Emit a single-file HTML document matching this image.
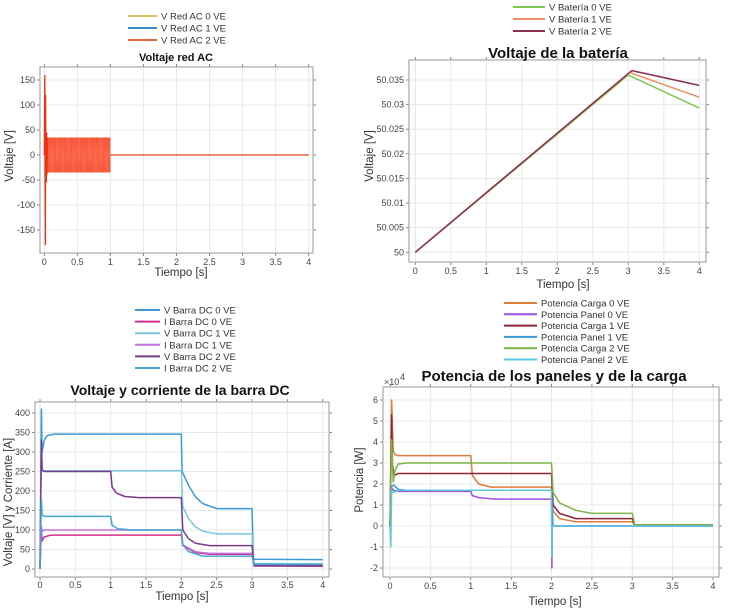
<!DOCTYPE html>
<html><head><meta charset="utf-8"><style>
html,body{margin:0;padding:0;background:#fff;}
svg{display:block;font-family:"Liberation Sans",sans-serif;}
.tick{font-size:9px;fill:#444;}
.lab{font-size:11.5px;fill:#333;}
.leg{font-size:9.5px;fill:#333;}
</style></head><body>
<svg id="s" width="732" height="615" viewBox="0 0 732 615"></svg>
<script>
// ---------- DATA ----------
const xTicks = [0,0.5,1,1.5,2,2.5,3,3.5,4];
const xTickLabels = ["0","0.5","1","1.5","2","2.5","3","3.5","4"];
// AC chart
const acYTicks = [-150,-100,-50,0,50,100,150];
const acSpikeT = [0,0.008,0.012,0.016,0.02,0.024,0.03,0.035,0.04,0.05];
const acSpikeV = [0,160,-40,-180,120,-20,-55,45,-40,35];
const acEnvT = [0.05,1.0];
const acEnvUpper = [35,35];
const acEnvLower = [-35,-35];
const acTailT = [1.0,4.0];
const acTailV = [0,0];
// Battery
const batYTicks = [50,50.005,50.01,50.015,50.02,50.025,50.03,50.035];
const bat0T = [0,3.0,4.0]; const bat0V = [50,50.0360,50.0293];
const bat1T = [0,3.02,4.0]; const bat1V = [50,50.0365,50.0315];
const bat2T = [0,3.05,4.0]; const bat2V = [50,50.0369,50.0339];
// DC bus
const dcYTicks = [0,50,100,150,200,250,300,350,400];
const vdc0T = [0,0.02,0.03,0.06,0.1,0.2,2.0,2.01,2.1,2.2,2.3,2.5,3.0,3.02,4.0];
const vdc0V = [0,410,300,330,342,346,346,250,215,185,168,155,155,25,24];
const idc0T = [0,0.02,0.03,0.06,0.15,2.0,2.02,2.2,2.4,3.0,3.03,4.0];
const idc0V = [0,100,72,82,87,87,60,42,38,38,8,7];
const vdc1T = [0,0.02,0.03,0.05,2.0,2.02,2.1,2.2,2.3,2.5,3.0,3.02,4.0];
const vdc1V = [0,330,250,252,252,160,130,108,97,90,90,14,13];
const idc1T = [0,0.02,0.03,0.06,2.0,2.02,2.2,2.4,3.0,3.03,4.0];
const idc1V = [0,110,95,100,100,62,44,40,40,10,10];
const vdc2T = [0,0.02,0.03,0.06,1.0,1.02,1.08,1.2,1.4,2.0,2.02,2.1,2.2,2.4,3.0,3.03,4.0];
const vdc2V = [0,330,255,250,250,210,195,186,183,183,100,78,66,60,60,8,8];
const idc2T = [0,0.02,0.03,0.06,1.0,1.02,1.1,1.3,2.0,2.02,2.1,2.3,3.0,3.03,4.0];
const idc2V = [0,180,140,135,135,112,103,100,100,62,45,33,33,12,12];
// Power (x1e4)
const pYTicks = [-2,-1,0,1,2,3,4,5,6];
const pc0T = [0,0.02,0.04,0.06,0.1,1.0,1.02,1.1,1.25,1.5,2.0,2.02,2.1,2.3,3.0,3.03,4.0];
const pc0V = [0,6.0,3.6,3.4,3.35,3.35,2.4,2.0,1.85,1.85,1.85,0.7,0.35,0.2,0.2,0.05,0.05];
const pp0T = [0,0.02,0.05,0.1,1.0,1.02,1.1,1.3,2.0,2.005,2.01,2.02,4.0];
const pp0V = [0,1.8,1.7,1.65,1.65,1.45,1.35,1.28,1.28,-2.0,0,0,0];
const pc1T = [0,0.02,0.03,0.05,0.1,2.0,2.02,2.1,2.3,3.0,3.03,4.0];
const pc1V = [0,5.3,3.0,2.4,2.5,2.5,1.0,0.6,0.35,0.35,0.05,0.05];
const pp1T = [0,0.02,0.05,0.1,0.2,2.0,2.02,4.0];
const pp1V = [0,1.9,1.95,1.75,1.7,1.7,0,0];
const pc2T = [0,0.02,0.04,0.06,0.1,0.2,2.0,2.02,2.1,2.3,2.5,3.0,3.03,4.0];
const pc2V = [0,4.1,2.1,2.6,2.95,3.0,3.0,1.6,1.1,0.75,0.6,0.6,0.05,0.05];
const pp2T = [0,0.01,0.02,0.05,0.1,2.0,2.005,2.01,4.0];
const pp2V = [0,-1.0,1.7,1.6,1.7,1.7,-1.5,0,0];

// ---------- DRAW ----------
const NS="http://www.w3.org/2000/svg";
const svg=document.getElementById('s');
function el(tag,attrs,parent,txt){const e=document.createElementNS(NS,tag);for(const k in attrs)e.setAttribute(k,attrs[k]);if(txt!==undefined)e.textContent=txt;(parent||svg).appendChild(e);return e;}

function chart(cfg){
  const g=el('g',{});
  
  
  const b=cfg.box;
  const sx=v=>cfg.x0px+(v-0)*(cfg.x4px-cfg.x0px)/4;
  const sy=v=>cfg.yApx+(v-cfg.yA)*(cfg.yBpx-cfg.yApx)/(cfg.yB-cfg.yA);
  const frame=el('rect',{x:b.l,y:b.t,width:b.r-b.l,height:b.b-b.t,fill:'#fff',stroke:'#a8a8a8','stroke-width':1.2},g);
  
  
  const grid=el('g',{},g);
  
  
  xTicks.forEach((t,i)=>{const x=sx(t);
    el('line',{x1:x,x2:x,y1:b.t,y2:b.b,stroke:'#e8e8e8'},grid);
    el('line',{x1:x,x2:x,y1:b.b,y2:b.b+3,stroke:'#888'},grid);
    el('line',{x1:x,x2:x,y1:b.t,y2:b.t-3,stroke:'#888'},grid);
    const tl=el('text',{x:x,y:b.b+cfg.tickOff,'text-anchor':'middle',class:'tick'},g,xTickLabels[i]);
    
    
  });
  cfg.yTicks.forEach(v=>{const y=sy(v);
    el('line',{x1:b.l,x2:b.r,y1:y,y2:y,stroke:'#e8e8e8'},grid);
    el('line',{x1:b.l-3,x2:b.l,y1:y,y2:y,stroke:'#888'},grid);
    el('line',{x1:b.r,x2:b.r+3,y1:y,y2:y,stroke:'#888'},grid);
    const tl=el('text',{x:b.l-5,y:y+3,'text-anchor':'end',class:'tick'},g,cfg.yFmt?cfg.yFmt(v):String(v));
    
    
  });
  const t=el('text',{x:cfg.title.x,y:cfg.title.y,'text-anchor':'middle','font-weight':'bold','font-size':cfg.title.size,fill:'#111'},g,cfg.title.text);
  
  
  const xl=el('text',{x:cfg.xl.x,y:cfg.xl.y,'text-anchor':'middle',class:'lab'},g,'Tiempo [s]');
  
  
  const yl=el('text',{x:cfg.yl.x,y:cfg.yl.y,'text-anchor':'middle',class:'lab',transform:`rotate(-90 ${cfg.yl.x} ${cfg.yl.y})`},g,cfg.yl.text);
  
  
  const leg=el('g',{},g);
  
  
  cfg.series.forEach((s,i)=>{
    const y=cfg.leg.y+i*cfg.leg.dy;
    const ln=el('line',{x1:cfg.leg.x,x2:cfg.leg.x+cfg.leg.w,y1:y,y2:y,stroke:s.color,'stroke-width':2},leg);
    
    
    const tx=el('text',{x:cfg.leg.x+cfg.leg.w+4,y:y+3.5,class:'leg'},leg,s.label);
    
    
  });
  const plot=el('g',{},g);
  
  
  cfg.series.forEach(s=>{ if(!s.t) return;
    const pts=s.t.map((tt,i)=>sx(tt).toFixed(1)+','+sy(s.v[i]).toFixed(1)).join(' ');
    const pl=el('polyline',{points:pts,fill:'none',stroke:s.color,'stroke-width':s.w||1.5,'stroke-linejoin':'round'},plot);
    
    
  });
  return {g,sx,sy,plot};
}

// Chart 1: AC
const c1=chart({name:'ac-voltage-chart',box:{l:40,r:313,t:67,b:253},x0px:44.3,x4px:308.7,yA:150,yApx:80,yB:-150,yBpx:230,tickOff:12,
  yTicks:acYTicks,title:{x:176,y:61,text:'Voltaje red AC',size:11},xl:{x:181,y:276},yl:{x:13,y:156,text:'Voltaje [V]'},
  leg:{x:128,y:16,dy:12,w:29},
  series:[{label:'V Red AC 0 VE',color:'#d9c060'},{label:'V Red AC 1 VE',color:'#3b8ac0'},{label:'V Red AC 2 VE',color:'#e86040'}]});
{
  const col='#f03010';
  const t0=acEnvT[0],t1=acEnvT[1];
  let pts=[];const n=Math.round((t1-t0)*60);
  for(let k=0;k<=n*2;k++){const tt=t0+(t1-t0)*k/(n*2);const f=(tt-t0)/(t1-t0);
    const up=acEnvUpper[0]+(acEnvUpper[1]-acEnvUpper[0])*f, lo=acEnvLower[0]+(acEnvLower[1]-acEnvLower[0])*f;
    pts.push(c1.sx(tt).toFixed(1)+','+c1.sy(k%2?lo:up).toFixed(1));}
  const band=el('rect',{x:c1.sx(t0),y:c1.sy(acEnvUpper[0]),width:c1.sx(t1)-c1.sx(t0),height:c1.sy(acEnvLower[0])-c1.sy(acEnvUpper[0]),fill:col},c1.plot);
  
  
  const osc=el('polyline',{points:pts.join(' '),fill:'none',stroke:'#ff8a70','stroke-width':0.5,opacity:0.7},c1.plot);
  
  
  const sp=el('polyline',{points:acSpikeT.map((t,i)=>c1.sx(t).toFixed(1)+','+c1.sy(acSpikeV[i]).toFixed(1)).join(' '),fill:'none',stroke:col,'stroke-width':1.3},c1.plot);
  
  
  const tl=el('polyline',{points:acTailT.map((t,i)=>c1.sx(t).toFixed(1)+','+c1.sy(acTailV[i]).toFixed(1)).join(' '),fill:'none',stroke:'#e86040','stroke-width':1.5},c1.plot);
  
  
}

// Chart 2: Battery
chart({name:'battery-voltage-chart',box:{l:409,r:706,t:60,b:262},x0px:415.3,x4px:699.3,yA:50,yApx:252.3,yB:50.035,yBpx:80,tickOff:12,
  yTicks:batYTicks,yFmt:v=>String(+v.toFixed(3)),title:{x:558,y:58,text:'Voltaje de la batería',size:15},xl:{x:563,y:288},yl:{x:373,y:156,text:'Voltaje [V]'},
  leg:{x:513,y:7,dy:12,w:32},
  series:[{label:'V Batería 0 VE',color:'#7cc850',t:bat0T,v:bat0V},{label:'V Batería 1 VE',color:'#e89060',t:bat1T,v:bat1V},{label:'V Batería 2 VE',color:'#8a3050',t:bat2T,v:bat2V}]});

// Chart 3: DC bus
chart({name:'dc-bus-chart',box:{l:35,r:329,t:402,b:577},x0px:40,x4px:322.7,yA:400,yApx:413,yB:0,yBpx:569,tickOff:11,
  yTicks:dcYTicks,title:{x:180,y:395,text:'Voltaje y corriente de la barra DC',size:14},xl:{x:182,y:600},yl:{x:12,y:502,text:'Voltaje [V] y Corriente [A]'},
  leg:{x:135,y:310,dy:11.6,w:25},
  series:[{label:'V Barra DC 0 VE',color:'#3a9ad9',t:vdc0T,v:vdc0V},{label:'I Barra DC 0 VE',color:'#d8308a',t:idc0T,v:idc0V},
    {label:'V Barra DC 1 VE',color:'#7cc8e0',t:vdc1T,v:vdc1V},{label:'I Barra DC 1 VE',color:'#c070e0',t:idc1T,v:idc1V},
    {label:'V Barra DC 2 VE',color:'#7a3a8a',t:vdc2T,v:vdc2V},{label:'I Barra DC 2 VE',color:'#40a8d0',t:idc2T,v:idc2V}]});

// Chart 4: Power
chart({name:'power-chart',box:{l:383,r:719,t:387,b:577},x0px:390,x4px:713,yA:6,yApx:400,yB:-2,yBpx:568,tickOff:12,
  yTicks:pYTicks,title:{x:554,y:381,text:'Potencia de los paneles y de la carga',size:15},xl:{x:555,y:605},yl:{x:363,y:480,text:'Potencia [W]'},
  leg:{x:504,y:303,dy:11.3,w:33},
  series:[{label:'Potencia Carga 0 VE',color:'#e07b39',t:pc0T,v:pc0V},{label:'Potencia Panel 0 VE',color:'#a050e0',t:pp0T,v:pp0V},
    {label:'Potencia Carga 1 VE',color:'#8b2535',t:pc1T,v:pc1V},{label:'Potencia Panel 1 VE',color:'#3a9ad9',t:pp1T,v:pp1V},
    {label:'Potencia Carga 2 VE',color:'#7cb342',t:pc2T,v:pc2V},{label:'Potencia Panel 2 VE',color:'#5bc8e0',t:pp2T,v:pp2V}]});
const ex=el('text',{x:384,y:385,class:'tick','font-size':'8'},svg,'×10');


const ex2=el('text',{x:400,y:380,class:'tick','font-size':'6'},svg,'4');


</script>
</body></html>
